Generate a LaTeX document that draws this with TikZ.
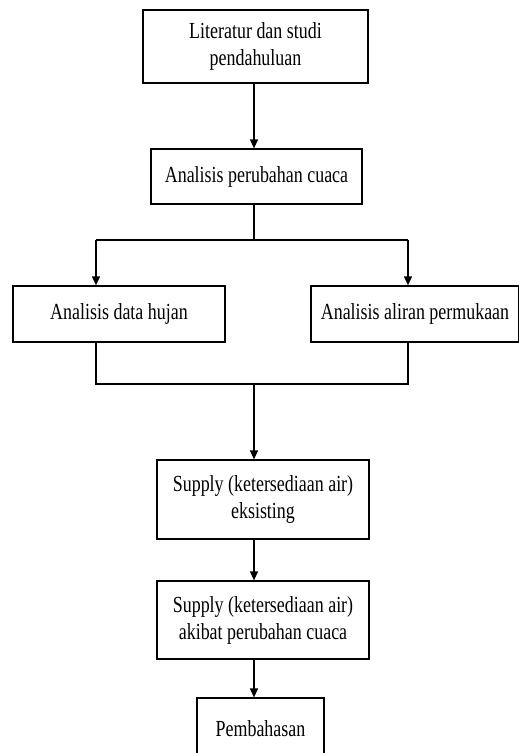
\documentclass[tikz,border=0pt]{standalone}
\usepackage{fontspec}
\setmainfont[FakeStretch=0.78]{Liberation Serif}
\usepackage{tikz}
\usetikzlibrary{positioning, arrows.meta}

\begin{document}
\begin{tikzpicture}[x=1pt, y=-1pt,
    kotak/.style={draw, line width=1.2pt, align=center, inner sep=0pt,
        font=\fontsize{23}{27}\selectfont},
    panah/.style={line width=1.2pt, -{Triangle[length=9pt, width=8pt]}},
    garis/.style={line width=1.2pt}]
        \useasboundingbox (0,0) rectangle (519,753);
        % Kotak-kotak diagram alir
        \node[kotak, minimum width=225pt, minimum height=73pt] (lit) at (255.5,46.5) {Literatur dan studi\\pendahuluan};
        \node[kotak, minimum width=211pt, minimum height=55pt] (perubahan) at (256.5,176.5) {Analisis perubahan cuaca};
        \node[kotak, minimum width=212pt, minimum height=56pt] (hujan) at (119,314) {Analisis data hujan};
        \node[kotak, minimum width=208pt, minimum height=56pt] (aliran) at (415,314) {Analisis aliran permukaan};
        \node[kotak, minimum width=212pt, minimum height=79pt] (eksisting) at (263,499.5) {Supply (ketersediaan air)\\eksisting};
        \node[kotak, minimum width=212pt, minimum height=78pt] (akibat) at (263,620) {Supply (ketersediaan air)\\akibat perubahan cuaca};
        \node[kotak, minimum width=127pt, minimum height=62pt] (bahas) at (260.5,729) {Pembahasan};

        % Titik cabang
        \coordinate (atas) at (254,240);
        \coordinate (kiri) at (96,240);
        \coordinate (kanan) at (408,240);
        \coordinate (gabung) at (254,384);

        % Penghubung
        \draw[panah] (lit.south -| gabung) -- (gabung |- perubahan.north);
        \draw[garis] (perubahan.south -| atas) -- (atas);
        \draw[garis] (kiri) -- (kanan);
        \draw[panah] (kiri) -- (kiri |- hujan.north);
        \draw[panah] (kanan) -- (kanan |- aliran.north);
        \draw[garis] (kiri |- hujan.south) -- (kiri |- gabung) -- (kanan |- gabung) -- (kanan |- aliran.south);
        \draw[panah] (gabung) -- (gabung |- eksisting.north);
        \draw[panah] (eksisting.south -| gabung) -- (gabung |- akibat.north);
        \draw[panah] (akibat.south -| gabung) -- (gabung |- bahas.north);
\end{tikzpicture}
\end{document}
